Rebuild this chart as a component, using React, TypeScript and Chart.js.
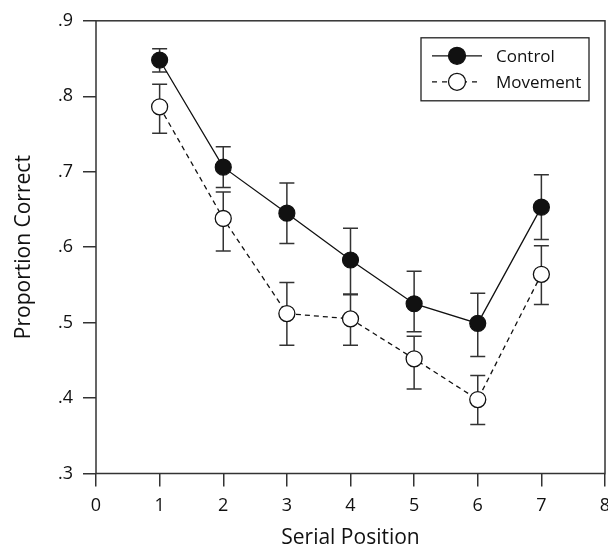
import React, { useEffect, useRef } from 'react';
import { Chart, registerables } from 'chart.js';

Chart.register(...registerables);

const serialPositions = [1, 2, 3, 4, 5, 6, 7];
const controlMean = [0.848, 0.706, 0.645, 0.583, 0.525, 0.499, 0.653];
const controlUpper = [0.863, 0.733, 0.685, 0.625, 0.568, 0.539, 0.696];
const controlLower = [0.832, 0.679, 0.605, 0.538, 0.488, 0.455, 0.61];
const movementMean = [0.786, 0.638, 0.512, 0.505, 0.452, 0.398, 0.564];
const movementUpper = [0.816, 0.673, 0.553, 0.537, 0.482, 0.43, 0.602];
const movementLower = [0.751, 0.595, 0.47, 0.47, 0.412, 0.365, 0.524];
const seriesNames = ['Control', 'Movement'];
const yRange = [0.3, 0.9];
const xRange = [0, 8];

const FONT = '"Open Sans", "DejaVu Sans", sans-serif';
const AXIS_COLOR = '#333';
const CANVAS_W = 630;
const CANVAS_H = 560;

const errorBarPlugin = {
  id: 'errorBars',
  beforeDatasetsDraw(chart: any) {
    const { ctx, scales } = chart;
    const groups = [
      { upper: controlUpper, lower: controlLower },
      { upper: movementUpper, lower: movementLower },
    ];
    ctx.save();
    ctx.strokeStyle = AXIS_COLOR;
    ctx.lineWidth = 1.5;
    ctx.setLineDash([]);
    groups.forEach((g) => {
      serialPositions.forEach((p, i) => {
        const x = scales.x.getPixelForValue(p);
        const yU = scales.y.getPixelForValue(g.upper[i]);
        const yL = scales.y.getPixelForValue(g.lower[i]);
        ctx.beginPath();
        ctx.moveTo(x, yU);
        ctx.lineTo(x, yL);
        ctx.moveTo(x - 7.5, yU);
        ctx.lineTo(x + 7.5, yU);
        ctx.moveTo(x - 7.5, yL);
        ctx.lineTo(x + 7.5, yL);
        ctx.stroke();
      });
    });
    ctx.restore();
  },
};

const frameLegendPlugin = {
  id: 'frameLegend',
  afterDraw(chart: any) {
    const { ctx, chartArea } = chart;
    const { left, right, top, bottom } = chartArea;
    ctx.save();
    ctx.strokeStyle = AXIS_COLOR;
    ctx.lineWidth = 1.5;
    ctx.setLineDash([]);
    ctx.strokeRect(left, top, right - left, bottom - top);

    // legend box
    const bw = 168;
    const bh = 63;
    const bx = right - 16 - bw;
    const by = top + 17;
    ctx.strokeStyle = '#222';
    ctx.lineWidth = 1.3;
    ctx.fillStyle = '#fff';
    ctx.fillRect(bx, by, bw, bh);
    ctx.strokeRect(bx, by, bw, bh);

    const rows = [
      { y: by + 18, dash: [] as number[], fill: '#111', label: seriesNames[0] },
      { y: by + 44, dash: [5, 5], fill: '#fff', label: seriesNames[1] },
    ];
    rows.forEach((r) => {
      ctx.strokeStyle = '#111';
      ctx.lineWidth = 1.3;
      ctx.setLineDash(r.dash);
      ctx.beginPath();
      ctx.moveTo(bx + 11, r.y);
      ctx.lineTo(bx + 61, r.y);
      ctx.stroke();
      ctx.setLineDash([]);
      ctx.beginPath();
      ctx.arc(bx + 36, r.y, 8.5, 0, Math.PI * 2);
      ctx.fillStyle = r.fill;
      ctx.fill();
      ctx.stroke();
      ctx.fillStyle = '#111';
      ctx.font = `17px ${FONT}`;
      ctx.textBaseline = 'middle';
      ctx.textAlign = 'left';
      ctx.fillText(r.label, bx + 75, r.y + 1);
    });
    ctx.restore();
  },
};

export default function App() {
  const canvasRef = useRef<HTMLCanvasElement | null>(null);

  useEffect(() => {
    const canvas = canvasRef.current;
    if (!canvas) return;
    const chart = new Chart(canvas, {
      type: 'line',
      data: {
        datasets: [
          {
            label: seriesNames[0],
            data: serialPositions.map((p, i) => ({ x: p, y: controlMean[i] })),
            borderColor: '#111',
            borderWidth: 1.3,
            backgroundColor: '#111',
            pointBackgroundColor: '#111',
            pointBorderColor: '#111',
            pointRadius: 8,
            pointBorderWidth: 1.2,
            tension: 0,
            fill: false,
          },
          {
            label: seriesNames[1],
            data: serialPositions.map((p, i) => ({ x: p, y: movementMean[i] })),
            borderColor: '#111',
            borderWidth: 1.3,
            borderDash: [5, 4],
            backgroundColor: '#fff',
            pointBackgroundColor: '#fff',
            pointBorderColor: '#111',
            pointRadius: 8,
            pointBorderWidth: 1.3,
            tension: 0,
            fill: false,
          },
        ],
      },
      options: {
        animation: false,
        responsive: false,
        maintainAspectRatio: false,
        layout: { padding: { top: 20, right: 25, left: 0, bottom: 0 } },
        plugins: {
          legend: { display: false },
          tooltip: { enabled: false },
        },
        scales: {
          x: {
            type: 'linear',
            min: xRange[0],
            max: xRange[1],
            ticks: {
              stepSize: 1,
              color: '#111',
              font: { family: FONT, size: 18 },
              padding: 9,
              maxRotation: 0,
            },
            grid: {
              drawOnChartArea: false,
              drawTicks: true,
              tickLength: 13,
              color: AXIS_COLOR,
              lineWidth: 1.5,
            },
            border: { display: false },
            title: {
              display: true,
              text: 'Serial Position',
              color: '#111',
              font: { family: FONT, size: 21 },
              padding: { top: 0, bottom: 9 },
            },
            afterFit(scale: any) {
              scale.height = CANVAS_H - 473.5;
            },
          },
          y: {
            type: 'linear',
            min: yRange[0],
            max: yRange[1],
            ticks: {
              stepSize: 0.1,
              color: '#111',
              font: { family: FONT, size: 18 },
              padding: 10,
              callback: (v: any) => Number(v).toFixed(1).replace(/^0/, ''),
            },
            grid: {
              drawOnChartArea: false,
              drawTicks: true,
              tickLength: 13,
              color: AXIS_COLOR,
              lineWidth: 1.5,
            },
            border: { display: false },
            title: {
              display: true,
              text: 'Proportion Correct',
              color: '#111',
              font: { family: FONT, size: 21 },
              padding: { top: 11, bottom: 0 },
            },
            afterFit(scale: any) {
              scale.width = 96;
            },
          },
        },
      } as any,
      plugins: [errorBarPlugin, frameLegendPlugin],
    });
    return () => chart.destroy();
  }, []);

  return (
    <div
      style={{
        position: 'fixed',
        left: 0,
        top: 0,
        width: 608,
        height: 548,
        overflow: 'hidden',
        background: '#fff',
      }}
    >
      <canvas
        ref={canvasRef}
        width={CANVAS_W}
        height={CANVAS_H}
        style={{ display: 'block', width: CANVAS_W, height: CANVAS_H }}
      />
    </div>
  );
}
